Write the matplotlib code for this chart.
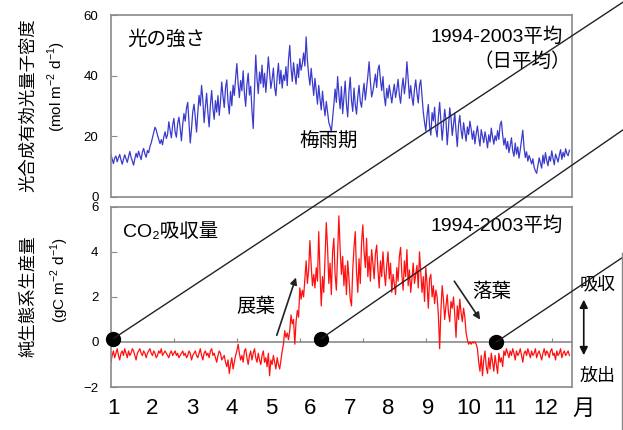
import numpy as np
import matplotlib
matplotlib.use("Agg")
import matplotlib.pyplot as plt
from matplotlib.patches import ConnectionPatch
from matplotlib.lines import Line2D

plt.rcParams['font.family'] = ['Liberation Sans', 'Noto Sans CJK JP', 'DejaVu Sans']
plt.rcParams['mathtext.fontset'] = 'custom'
plt.rcParams['mathtext.rm'] = 'Liberation Sans'

# daily PAR (mol m-2 d-1), 1994-2003 mean
par_jan = [14.2, 12.5, 11.0, 12.8, 13.5, 11.6, 12.9, 14.0, 12.2, 10.8, 12.5, 13.9, 12.7, 11.4, 13.2, 15.0,
           13.1, 11.9, 10.5, 12.6, 14.4, 13.0, 15.1, 13.6, 12.3, 14.8, 16.0, 14.2, 13.1, 15.3, 14.6]
par_feb = [16.6, 17.8, 19.5, 21.2, 23.0, 22.1, 20.4, 19.0, 17.6, 18.9, 17.2, 19.8, 21.5, 19.3, 20.6, 24.8,
           22.0, 19.5, 23.6, 25.9, 21.4, 19.7, 24.2, 26.3, 22.8, 18.5, 23.9, 27.5]
par_mar = [25.0, 29.3, 31.2, 24.6, 17.8, 22.5, 28.1, 30.6, 26.2, 21.4, 27.9, 33.5, 30.1, 36.8, 32.0, 24.5,
           29.7, 34.2, 27.8, 23.1, 30.4, 35.1, 29.2, 25.6, 31.8, 28.0, 33.4, 26.9, 31.5, 37.9, 33.2]
par_apr = [29.5, 36.0, 38.6, 31.2, 27.4, 34.8, 30.1, 36.9, 33.5, 39.2, 44.0, 37.5, 32.8, 38.4, 35.0, 41.6,
           34.2, 29.9, 37.1, 40.8, 33.6, 36.5, 28.4, 22.6, 35.3, 46.8, 39.0, 34.1, 41.2, 37.4]
par_may = [43.5, 36.2, 40.8, 34.5, 39.9, 46.2, 41.0, 35.8, 38.7, 42.5, 36.1, 33.4, 39.6, 44.1, 37.3, 41.8,
           35.9, 40.2, 38.4, 43.0, 36.7, 45.2, 50.0, 42.6, 38.1, 44.3, 40.5, 37.2, 43.8, 39.4, 45.6]
par_jun = [41.8, 44.0, 47.5, 43.2, 52.8, 45.1, 40.3, 36.9, 42.4, 38.0, 33.5, 39.1, 35.2, 30.6, 36.8, 32.4,
           28.7, 34.9, 30.2, 26.8, 31.5, 27.9, 24.6, 23.3, 21.5, 25.8, 30.4, 35.6, 31.2, 39.7]
par_jul = [33.8, 29.1, 36.4, 27.5, 32.9, 38.2, 30.6, 26.4, 34.7, 39.5, 31.8, 28.2, 35.9, 30.5, 27.3, 33.1,
           36.8, 31.4, 29.6, 34.2, 37.5, 32.0, 35.8, 39.9, 44.6, 38.2, 33.0, 34.8, 37.6, 40.5, 36.1]
par_aug = [42.0, 43.5, 38.6, 35.1, 39.7, 33.2, 30.1, 35.8, 32.6, 36.9, 33.9, 31.0, 34.5, 37.2, 32.8, 35.4,
           38.8, 33.6, 30.9, 36.1, 39.2, 34.0, 37.6, 44.6, 38.9, 32.5, 36.7, 33.0, 30.2, 35.5, 38.6]
par_sep = [34.2, 31.0, 36.8, 38.6, 33.5, 28.0, 24.6, 21.8, 26.9, 30.5, 23.2, 20.4, 27.8, 25.1, 29.6, 22.3,
           19.8, 26.5, 31.2, 24.8, 18.7, 23.6, 28.9, 25.4, 17.2, 22.8, 29.4, 26.1, 20.3, 24.0]
par_oct = [27.6, 21.5, 16.6, 23.8, 26.9, 22.0, 19.2, 24.5, 21.3, 18.4, 23.1, 20.6, 25.0, 22.4, 19.0, 21.8,
           17.5, 20.9, 23.4, 19.6, 16.8, 22.2, 20.0, 17.9, 21.5, 19.3, 16.2, 20.5, 18.1, 22.7, 19.8]
par_nov = [17.4, 20.2, 18.6, 21.9, 19.0, 23.8, 25.0, 20.5, 17.1, 19.4, 15.8, 18.3, 14.6, 16.9, 19.5, 15.2,
           13.4, 17.8, 14.1, 16.5, 12.8, 15.6, 18.9, 22.0, 16.3, 13.0, 14.9, 11.8, 13.7, 12.4]
par_dec = [10.9, 12.6, 9.8, 8.6, 7.8, 10.4, 12.9, 11.2, 9.5, 13.8, 11.0, 14.6, 12.1, 10.3, 13.4, 11.8,
           15.2, 12.7, 10.6, 14.1, 12.9, 11.5, 13.8, 15.6, 12.4, 14.7, 13.2, 15.9, 14.3, 13.6, 15.4]

# daily NEP (gC m-2 d-1)
nep_jan = [-0.9, -0.6, -0.4, -0.7, -0.5, -0.3, -0.6, -0.8, -0.5, -0.4, -0.6, -0.3, -0.5, -0.7, -0.4, -0.6,
           -0.5, -0.3, -0.4, -0.6, -0.8, -0.5, -0.4, -0.3, -0.5, -0.6, -0.4, -0.5, -0.7, -0.5, -0.4]
nep_feb = [-0.3, -0.5, -0.6, -0.4, -0.5, -0.7, -0.6, -0.4, -0.5, -0.3, -0.6, -0.5, -0.4, -0.5, -0.6, -0.7,
           -0.5, -0.4, -0.6, -0.5, -0.4, -0.6, -0.5, -0.7, -0.6, -0.5, -0.4, -0.6]
nep_mar = [-0.5, -0.7, -0.6, -0.4, -0.5, -0.8, -0.6, -0.5, -0.4, -0.6, -0.7, -0.5, -0.3, -0.6, -0.8, -0.5,
           -0.4, -0.6, -0.5, -0.7, -0.4, -0.3, -0.6, -0.5, -0.7, -0.9, -0.6, -0.4, -0.5, -0.8, -0.7]
nep_apr = [-0.6, -0.9, -1.1, -0.8, -1.4, -1.0, -0.7, -1.2, -0.9, -0.6, -0.4, -0.1, -0.5, -0.8, -0.6, -0.9,
           -0.4, -0.3, -0.7, -1.0, -0.6, -0.4, -0.8, -0.5, -0.3, -0.7, -0.9, -0.5, -0.8, -1.0]
nep_may = [-0.6, -0.4, -0.9, -0.7, -1.1, -0.5, -1.5, -0.8, -1.0, -0.6, -0.9, -1.2, -0.7, -1.0, -1.2, -0.8,
           -0.4, -0.1, 0.5, 0.2, 0.4, 0.1, 0.5, 1.2, 0.8, 1.0, -0.1, 0.9, 1.4, 1.1, 2.4]
nep_jun = [1.9, 2.3, 2.0, 2.8, 3.6, 2.6, 3.2, 4.5, 3.4, 2.5, 3.0, 2.4, 3.3, 2.7, 4.9, 3.1,
           1.6, 2.9, 2.2, 3.8, 5.3, 4.2, 2.6, 3.5, 2.1, 4.0, 4.6, 3.0, 2.3, 3.9]
nep_jul = [5.6, 4.1, 3.0, 3.8, 2.5, 3.4, 2.1, 3.6, 2.8, 1.9, 1.6, 3.2, 4.2, 4.9, 3.1, 2.2,
           3.7, 2.6, 4.4, 5.2, 4.0, 3.3, 4.6, 2.9, 3.8, 2.7, 4.1, 3.5, 2.8, 3.9, 4.3]
nep_aug = [3.2, 2.4, 3.6, 2.9, 4.0, 3.1, 2.5, 3.4, 4.0, 2.8, 3.5, 2.2, 3.0, 2.6, 2.1, 3.3,
           2.7, 3.8, 4.2, 3.0, 2.3, 3.6, 2.9, 4.1, 2.5, 3.2, 2.2, 2.8, 3.5, 2.6, 3.0]
nep_sep = [3.4, 2.4, 4.0, 3.1, 2.2, 2.9, 1.8, 3.3, 2.6, 1.5, 2.8, 3.0, 2.0, 2.5, 1.7, 2.3,
           2.0, 1.2, -0.3, 1.4, 2.5, 1.9, 1.0, 1.6, 2.1, 1.3, 0.9, 1.8, 1.5, 2.0]
nep_oct = [1.2, 0.2, 1.6, 1.0, 1.9, 1.3, 0.9, 1.5, 1.1, 0.4, 0.1, -0.1, 0.0, -0.1, 0.0, -0.05,
           0.0, -0.1, -0.3, -0.9, -1.3, -0.6, -1.5, -0.8, -0.4, -1.1, -1.4, -0.7, -1.2, -0.5, -0.9]
nep_nov = [-1.3, -0.6, -1.0, -1.4, -0.5, -0.9, -0.7, -1.1, -0.4, -0.6, -0.3, -0.5, -0.7, -0.4, -0.6, -0.3,
           -0.5, -0.8, -0.4, -0.6, -0.5, -0.3, -0.6, -0.9, -0.5, -0.4, -0.6, -0.3, -0.5, -0.7]
nep_dec = [-0.4, -0.6, -0.5, -0.3, -0.7, -0.5, -0.4, -0.6, -0.8, -0.5, -0.3, -0.6, -0.4, -0.5, -0.7, -0.4,
           -0.3, -0.6, -0.5, -0.8, -0.4, -0.6, -0.5, -0.3, -0.7, -0.5, -0.4, -0.6, -0.5, -0.4, -0.6]

month_labels = ['1', '2', '3', '4', '5', '6', '7', '8', '9', '10', '11', '12', '月']
month_pos = [2, 33, 65, 96, 127, 158, 190, 220, 252, 284, 313, 345, 375]

# marked days on the NEP curve (linked to photos off to the right)
mark_days = [2, 167, 306]
mark_vals = [0.15, 0.15, 0.0]
link_ends = [(1.0, 0.995), (1.0, 0.698), (1.0, 0.402)]

par = np.array(par_jan + par_feb + par_mar + par_apr + par_may + par_jun +
               par_jul + par_aug + par_sep + par_oct + par_nov + par_dec)
nep = np.array(nep_jan + nep_feb + nep_mar + nep_apr + nep_may + nep_jun +
               nep_jul + nep_aug + nep_sep + nep_oct + nep_nov + nep_dec)
days_par = np.arange(len(par))
days_nep = np.arange(len(nep))

gray = '#8a8a8a'
fig = plt.figure(figsize=(6.23, 4.30), dpi=100)
ax1 = fig.add_axes([0.178, 0.542, 0.740, 0.423])
ax2 = fig.add_axes([0.178, 0.100, 0.740, 0.419])

for ax in (ax1, ax2):
    for s in ax.spines.values():
        s.set_color(gray)
        s.set_linewidth(1.2)
    ax.set_xlim(0, 366)
    ax.set_xticks([])
    ax.tick_params(axis='y', direction='in', length=4, color=gray, pad=9, labelsize=9.5)

ax1.plot(days_par, par, color='#3a3acc', lw=0.9)
ax1.set_ylim(0, 60)
ax1.set_yticks([0, 20, 40, 60])

ax2.plot(days_nep, nep, color='#ff1010', lw=0.9)
ax2.set_ylim(-2, 6)
ax2.set_yticks([-2, 0, 2, 4, 6])
zero = ax2.secondary_xaxis(0.25)
zero.set_xticks(range(50, 351, 50))
zero.tick_params(direction='in', length=3, color=gray, labelbottom=False)
zero.spines['bottom'].set_color(gray)
zero.spines['bottom'].set_linewidth(1.2)

# month labels under the lower panel
for lab, pos in zip(month_labels, month_pos):
    ax2.text(pos, -0.122, lab, transform=ax2.get_xaxis_transform(), ha='center', va='center',
             fontsize=16, clip_on=False)

# axis titles
fig.text(0.045, 0.756, '光合成有効光量子密度', rotation=90, ha='center', va='center', fontsize=12.5)
fig.text(0.092, 0.80, r'(mol m$^{-2}$ d$^{-1}$)', rotation=90, ha='center', va='center', fontsize=11)
fig.text(0.045, 0.312, '純生態系生産量', rotation=90, ha='center', va='center', fontsize=12.5)
fig.text(0.096, 0.349, r'(gC m$^{-2}$ d$^{-1}$)', rotation=90, ha='center', va='center', fontsize=11)

# panel notes
ax1.text(12.7, 51.8, '光の強さ', fontsize=14, ha='left', va='center')
ax1.text(358.7, 52.9, '1994-2003平均', fontsize=14, ha='right', va='center')
ax1.text(365, 44.5, '（日平均）', fontsize=14, ha='right', va='center')
ax1.text(150, 18.1, '梅雨期', fontsize=14, ha='left', va='center')

ax2.text(9.5, 4.89, 'CO₂吸収量', fontsize=14, ha='left', va='center')
ax2.text(358.7, 5.16, '1994-2003平均', fontsize=14, ha='right', va='center')
ax2.text(100, 1.56, '展葉', fontsize=14, ha='left', va='center')
ax2.text(287, 2.22, '落葉', fontsize=14, ha='left', va='center')
ax2.annotate('', xy=(147.6, 2.98), xytext=(131, 0.18),
             arrowprops=dict(arrowstyle='-|>', color='#222222', lw=1.2, mutation_scale=10))
ax2.annotate('', xy=(294.4, 0.89), xytext=(271.4, 2.8),
             arrowprops=dict(arrowstyle='-|>', color='#222222', lw=1.2, mutation_scale=10))

ax2.text(386.5, 2.53, '吸収', fontsize=13, ha='center', va='center', clip_on=False)
ax2.text(386.5, -1.51, '放出', fontsize=13, ha='center', va='center', clip_on=False)
ax2.annotate('', xy=(375.4, 2.0), xytext=(375.4, -0.71), annotation_clip=False,
             arrowprops=dict(arrowstyle='<|-|>', color='#111111', lw=1.2, mutation_scale=12))

# link lines from the marked days to the right-hand panel
for d, v, end in zip(mark_days, mark_vals, link_ends):
    con = ConnectionPatch(xyA=(d, v), coordsA=ax2.transData, xyB=end, coordsB=fig.transFigure,
                          color='#222222', lw=1.0)
    fig.add_artist(con)
ax2.plot(mark_days, mark_vals, 'o', color='black', ms=10, clip_on=False, zorder=5)

fig.add_artist(Line2D([0.9984, 0.9984], [0.0, 0.412], color=gray, lw=1.0, transform=fig.transFigure))

fig.savefig('out.png', dpi=100)
